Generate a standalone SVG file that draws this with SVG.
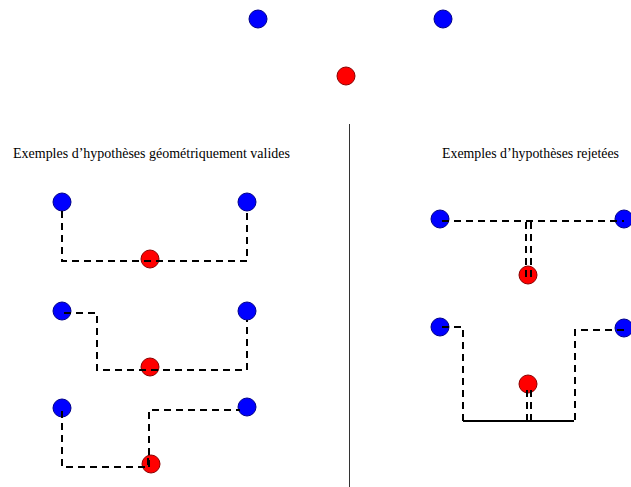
<svg xmlns="http://www.w3.org/2000/svg" width="631" height="487" viewBox="0 0 631 487">
<style>
.b{fill:#0000ff;stroke:#00008b;stroke-width:1}
.r{fill:#ff0000;stroke:#8b0000;stroke-width:1}
.d{fill:none;stroke:#000;stroke-width:2;stroke-dasharray:7 5}
.s{fill:none;stroke:#000;stroke-width:2}
.t{font-family:"Liberation Serif","Times New Roman",serif;font-size:14px;fill:#000}
</style>
<rect width="631" height="487" fill="#fff"/>
<g id="top">
<circle class="b" cx="258" cy="19" r="9"/>
<circle class="b" cx="443" cy="19" r="9"/>
<circle class="r" cx="346" cy="76" r="9"/>
</g>
<line id="divider" x1="349.5" y1="124" x2="349.5" y2="487" stroke="#333" stroke-width="1"/>
<text id="title-left" class="t" x="13" y="158" textLength="277" lengthAdjust="spacingAndGlyphs">Exemples d’hypothèses géométriquement valides</text>
<text id="title-right" class="t" x="442" y="158" textLength="177" lengthAdjust="spacingAndGlyphs">Exemples d’hypothèses rejetées</text>
<g id="valid1">
<circle class="b" cx="62" cy="202" r="9"/>
<circle class="b" cx="247" cy="202" r="9"/>
<circle class="r" cx="150" cy="259" r="9"/>
</g>
<g id="valid2">
<circle class="b" cx="62" cy="311" r="9"/>
<circle class="b" cx="247" cy="311" r="9"/>
<circle class="r" cx="150" cy="367" r="9"/>
</g>
<g id="valid3">
<circle class="b" cx="62" cy="408" r="9"/>
<circle class="b" cx="247" cy="407" r="9"/>
<circle class="r" cx="151" cy="464" r="9"/>
</g>
<g id="rejected1">
<circle class="b" cx="440" cy="219" r="9"/>
<circle class="b" cx="624" cy="219" r="9"/>
<circle class="r" cx="528" cy="275" r="9"/>
</g>
<g id="rejected2">
<circle class="b" cx="440" cy="327" r="9"/>
<circle class="b" cx="624" cy="328" r="9"/>
<circle class="r" cx="528" cy="384" r="9"/>
</g>
<g id="connectors">
<path class="d" d="M62,211 V261 H247 V211"/>
<path class="d" d="M64,313 H97 V370 H247 V320"/>
<path class="d" d="M62,411 V467 H148 V458"/>
<path class="d" d="M149,467 V410 H240"/>
<path class="d" d="M442,221 H624"/>
<path class="d" d="M526,222 V282"/>
<path class="d" d="M531,222 V282"/>
<path class="d" d="M442,327 H463 V421"/>
<path class="s" d="M463,421 H574"/>
<path class="d" d="M624,330 H575 V421"/>
<path class="d" d="M527,421 V390"/>
<path class="d" d="M531,421 V385"/>
</g>
</svg>
